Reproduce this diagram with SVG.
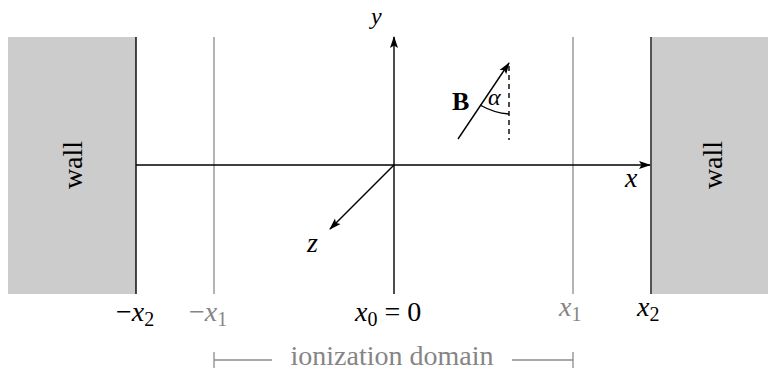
<svg xmlns="http://www.w3.org/2000/svg" width="768" height="371" viewBox="0 0 768 371">
<style>
.t{font-family:'Liberation Serif','DejaVu Serif',serif;fill:#000;font-size:28px}
.m{font-style:italic}
.s{font-size:20px}
.g{fill:#858585}
.wall{fill:#cccccc}
.ax{stroke:#000;stroke-width:1.4;fill:none}
.gl{stroke:#8c8c8c;stroke-width:1.3;fill:none}
</style>
<defs>
<marker id="ah" viewBox="0 0 12 10" refX="11" refY="5" markerWidth="12" markerHeight="10" markerUnits="userSpaceOnUse" orient="auto">
<path d="M0,1 L12,5 L0,9 L2.5,5 Z" fill="#000"/>
</marker>
</defs>
<g id="wall-left">
<rect class="wall" x="8" y="37" width="128" height="257"/>
<line class="ax" x1="136" y1="37" x2="136" y2="294"/>
<text class="t" x="0" y="0" text-anchor="middle" transform="translate(82,165) rotate(-90)">wall</text>
</g>
<g id="wall-right">
<rect class="wall" x="651" y="37" width="117" height="257"/>
<line x1="651" y1="37" x2="651" y2="294" stroke="#444" stroke-width="1.8"/>
<text class="t" x="0" y="0" text-anchor="middle" transform="translate(722,165) rotate(-90)">wall</text>
</g>
<g id="lines">
<line class="gl" x1="214" y1="37" x2="214" y2="294"/>
<line class="gl" x1="573" y1="37" x2="573" y2="294"/>
</g>
<g id="connectors">
<line class="ax" x1="136" y1="165" x2="650" y2="165" marker-end="url(#ah)"/>
<line class="ax" x1="394" y1="294" x2="394" y2="37" marker-end="url(#ah)"/>
<line class="ax" x1="394" y1="165" x2="330" y2="229" marker-end="url(#ah)"/>
<line class="ax" x1="458" y1="139" x2="509" y2="63" marker-end="url(#ah)"/>
<line x1="509" y1="66" x2="509" y2="140" stroke="#000" stroke-width="1.4" stroke-dasharray="5,4"/>
<path class="ax" d="M480,105 Q494,113 509,114"/>
</g>
<g id="labels">
<text class="t m" x="371" y="24" style="font-size:24px">y</text>
<text class="t m" x="625" y="187">x</text>
<text class="t m" x="307" y="252">z</text>
<text class="t" x="452" y="110" font-weight="bold" style="font-size:26px">B</text>
<text class="t m" x="488" y="105" style="font-size:24px">α</text>
<text class="t" x="116" y="321">−<tspan class="m">x</tspan><tspan class="s" dy="5">2</tspan></text>
<text class="t g" x="189" y="321">−<tspan class="m">x</tspan><tspan class="s" dy="5">1</tspan></text>
<text class="t" x="355" y="321"><tspan class="m">x</tspan><tspan class="s" dy="5">0</tspan><tspan dy="-5"> = 0</tspan></text>
<text class="t g" x="559" y="316"><tspan class="m">x</tspan><tspan class="s" dy="5">1</tspan></text>
<text class="t" x="637" y="316"><tspan class="m">x</tspan><tspan class="s" dy="5">2</tspan></text>
</g>
<g id="domain">
<path class="gl" d="M214,352 V368 M214,360 H272 M512,360 H573 M573,352 V368"/>
<text class="t g" x="392" y="365" text-anchor="middle">ionization domain</text>
</g>
</svg>
